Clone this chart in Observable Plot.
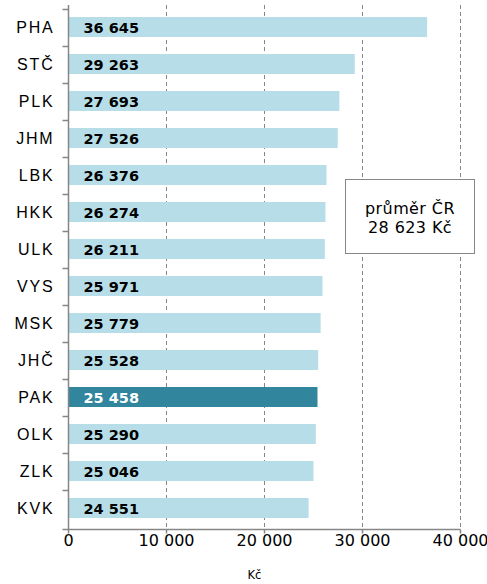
<!DOCTYPE html>
<html><head><meta charset="utf-8">
<script src="https://cdn.jsdelivr.net/npm/d3@7"></script>
<script src="https://cdn.jsdelivr.net/npm/@observablehq/plot@0.6"></script>
<style>body{margin:0;background:#fff} #chart{width:487px;height:584px}</style>
</head><body><div id="chart"></div>
<script>
const regions = ["PHA","STČ","PLK","JHM","LBK","HKK","ULK","VYS","MSK","JHČ","PAK","OLK","ZLK","KVK"];
const wages = [36645,29263,27693,27526,26376,26274,26211,25971,25779,25528,25458,25290,25046,24551];
const highlightRegion = "PAK";
const xTicks = [0,10000,20000,30000,40000];
const gridTicks = [10000,20000,30000,40000];
const averageLines = ["průměr ČR","28 623 Kč"];
const xTitle = "Kč";

const LIGHT = "#b7dee8", DARK = "#31859c", AXIS = "#868686";
const FONT = "'DejaVu Sans', Verdana, sans-serif";
const ARIAL = "'Liberation Sans', Arial, sans-serif";
const fmt = v => d3.format(",")(v).replace(/,/g, " ");
const rows = regions.map((region, i) => ({region, wage: wages[i]}));

function decorations(index, scales, values, dims) {
  const {x, y} = scales;
  const step = y.step(), bw = y.bandwidth();
  const top = dims.marginTop, bottom = dims.height - dims.marginBottom;
  const x0 = Math.round(x(0)) + 0.5;
  const g = d3.create("svg:g");
  const lines = g.append("g").attr("stroke", AXIS).attr("stroke-width", 1.5).attr("fill", "none");
  lines.append("line").attr("x1", x0).attr("x2", x0).attr("y1", top).attr("y2", bottom + 0.5);
  const bounds = regions.map(r => y(r) + bw / 2 - step / 2);
  for (const b of bounds) {
    const yy = Math.round(b) + 0.5;
    lines.append("line").attr("x1", x0 - 6).attr("x2", x0).attr("y1", yy).attr("y2", yy);
  }
  const yb = Math.round(bottom) + 0.5;
  lines.append("line").attr("x1", x0 - 6).attr("x2", Math.round(x(xTicks[xTicks.length - 1])) + 0.5).attr("y1", yb).attr("y2", yb);
  for (const t of xTicks) {
    const xx = Math.round(x(t)) + 0.5;
    lines.append("line").attr("x1", xx).attr("x2", xx).attr("y1", yb).attr("y2", yb + 4);
  }
  // average annotation box
  const bw2 = 129, bh = 74, bx = dims.width - 13 - bw2 + 0.5, by = top + 174 + 0.5;
  g.append("rect").attr("x", bx).attr("y", by).attr("width", bw2).attr("height", bh)
    .attr("fill", "white").attr("stroke", AXIS).attr("stroke-width", 1);
  const t = g.append("text").attr("text-anchor", "middle").attr("font-family", FONT)
    .attr("font-size", 16).attr("letter-spacing", "0.4px").attr("fill", "#000");
  averageLines.forEach((s, i) => {
    t.append("tspan").attr("x", bx + bw2 / 2).attr("y", by + 34 + i * 19).text(s);
  });
  return g.node();
}

const chart = Plot.plot({
  width: 487,
  height: 584,
  marginLeft: 68,
  marginRight: 27,
  marginTop: 5,
  marginBottom: 55,
  style: {background: "white"},
  x: {domain: [0, 40000], axis: null},
  y: {domain: regions, paddingInner: 0.47, paddingOuter: 0.235, axis: null},
  color: {type: "identity"},
  marks: [
    Plot.ruleX(gridTicks, {x: d => d, stroke: AXIS, strokeWidth: 1, strokeDasharray: "4,3"}),
    Plot.barX(rows, {x: "wage", y: "region", fill: d => d.region === highlightRegion ? DARK : LIGHT}),
    decorations,
    Plot.text(rows, {y: "region", text: "region", frameAnchor: "left", textAnchor: "end", dx: -14,
      fontSize: 16, fontFamily: ARIAL, fill: "#000"}),
    Plot.text(rows, {y: "region", text: d => fmt(d.wage), frameAnchor: "left", textAnchor: "start", dx: 15, dy: 1,
      fontSize: 14.5, fontWeight: "bold", fontFamily: FONT,
      fill: d => d.region === highlightRegion ? "#ffffff" : "#000000"}),
    Plot.text(xTicks, {x: d => d, text: d => fmt(d), frameAnchor: "bottom", lineAnchor: "top", dy: 5,
      fontSize: 16, fontFamily: FONT, fill: "#000"}),
    Plot.text([xTitle], {text: d => d, frameAnchor: "bottom", dx: -10, dy: 49, fontSize: 11.5, fontFamily: FONT, fill: "#000"})
  ]
});
d3.select(chart).selectAll("text")
  .filter(function() { return regions.includes(this.textContent); })
  .attr("letter-spacing", "1.8px");
document.getElementById("chart").appendChild(chart);
</script>
</body></html>
